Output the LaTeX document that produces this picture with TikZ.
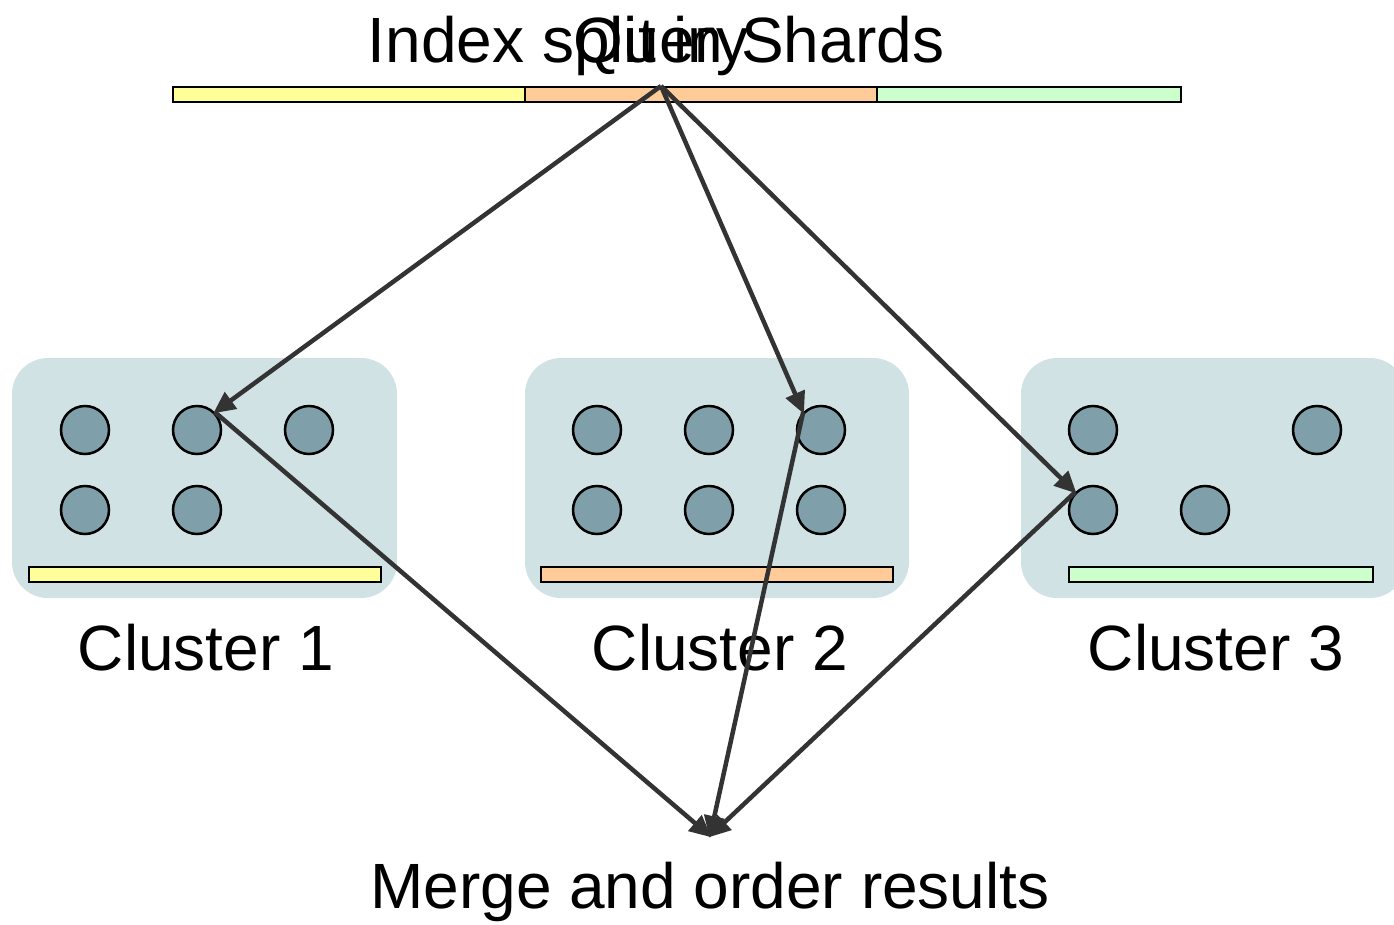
\documentclass[tikz,border=0pt]{standalone}
\usepackage{fontspec}
\setmainfont{Liberation Sans}
\usetikzlibrary{arrows.meta}
\definecolor{shardA}{HTML}{FFFF99}
\definecolor{shardB}{HTML}{FFCC99}
\definecolor{shardC}{HTML}{CCFFCC}
\definecolor{clusterbg}{HTML}{D0E2E4}
\definecolor{machine}{HTML}{7FA0AA}
\definecolor{flow}{HTML}{333333}
\tikzset{
  shardbar/.style={draw=black, line width=1.5pt, inner sep=0pt, minimum height=15pt},
  clusterbox/.style={fill=clusterbg, rounded corners=36pt, inner sep=0pt},
  machinenode/.style={circle, draw=black, line width=2.5pt, fill=machine, minimum size=48pt, inner sep=0pt},
  biglabel/.style={font=\fontsize{64}{72}\selectfont, inner sep=0pt, anchor=base},
  flowarrow/.style={draw=flow, line width=4.5pt, -{Triangle[length=22pt,width=20pt]}, shorten >=-2pt},
}
\begin{document}
\begin{tikzpicture}[x=1pt,y=-1pt]
\useasboundingbox (0,0) rectangle (1394,924);
\begin{scope}
\clip (0,0) rectangle (1394,924);

% cluster backgrounds
\node[clusterbox, minimum width=385pt, minimum height=240pt] (c1) at (204.5,478) {};
\node[clusterbox, minimum width=384pt, minimum height=240pt] (c2) at (717,478) {};
\node[clusterbox, minimum width=385pt, minimum height=240pt] (c3) at (1213.5,478) {};

% shard bars inside clusters
\node[shardbar, fill=shardA, minimum width=352pt] (b1) at (205,574.5) {};
\node[shardbar, fill=shardB, minimum width=352pt] (b2) at (717,574.5) {};
\node[shardbar, fill=shardC, minimum width=304pt] (b3) at (1221,574.5) {};

% machines of cluster 1
\node[machinenode] (m11) at (85,430) {};
\node[machinenode] (m12) at (197,430) {};
\node[machinenode] (m13) at (309,430) {};
\node[machinenode] (m14) at (85,510) {};
\node[machinenode] (m15) at (197,510) {};
% machines of cluster 2
\node[machinenode] (m21) at (597,430) {};
\node[machinenode] (m22) at (709,430) {};
\node[machinenode] (m23) at (821,430) {};
\node[machinenode] (m24) at (597,510) {};
\node[machinenode] (m25) at (709,510) {};
\node[machinenode] (m26) at (821,510) {};
% machines of cluster 3
\node[machinenode] (m31) at (1093,430) {};
\node[machinenode] (m32) at (1317,430) {};
\node[machinenode] (m33) at (1093,510) {};
\node[machinenode] (m34) at (1205,510) {};
\end{scope}

% the full index, split in shards
\node[shardbar, fill=shardA, minimum width=352pt] (s1) at (349,94.5) {};
\node[shardbar, fill=shardB, minimum width=352pt] (s2) at (701,94.5) {};
\node[shardbar, fill=shardC, minimum width=304pt] (s3) at (1029,94.5) {};

% titles
\node[biglabel] (title) at (656,62) {Index split in Shards};
\node[biglabel] (query) at (661,62) {Query};
\node[biglabel] (l1) at (206,670) {Cluster 1};
\node[biglabel] (l2) at (720,670) {Cluster 2};
\node[biglabel] (l3) at (1216,670) {Cluster 3};
\node[biglabel] (merge) at (710,908) {Merge and order results};

% query fan-out and result merge
\coordinate (q) at (661,86);
\coordinate (r) at (710,836);
\draw[flowarrow] (q) -- (m12.45);
\draw[flowarrow] (q) -- (m23.135);
\draw[flowarrow] (q) -- (m33.135);
\draw[flowarrow] (m12.45) -- (r);
\draw[flowarrow] (m23.135) -- (r);
\draw[flowarrow] (m33.135) -- (r);
\end{tikzpicture}
\end{document}
